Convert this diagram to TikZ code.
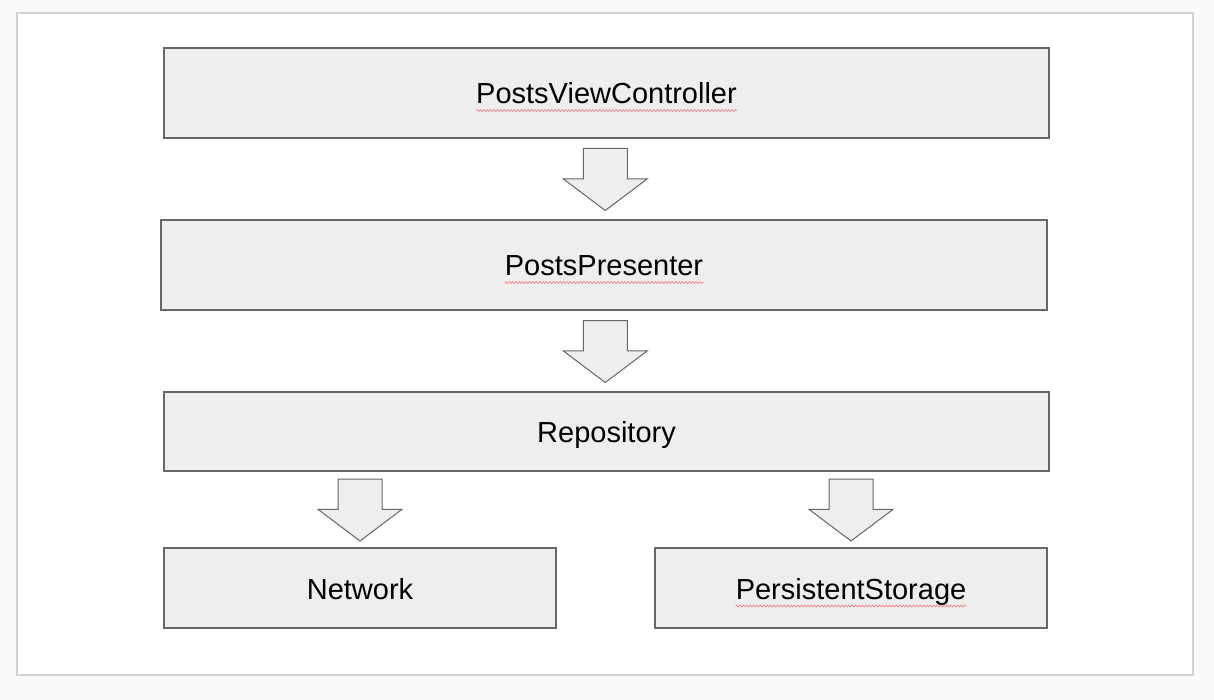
\documentclass[tikz,border=0pt]{standalone}
\usepackage{fontspec}
\setmainfont{Liberation Sans}
\usetikzlibrary{shapes.arrows, positioning, calc, decorations.pathmorphing}
\definecolor{pageGray}{RGB}{248, 249, 250}
\definecolor{edgeGray}{RGB}{210, 210, 210}
\definecolor{boxGray}{RGB}{238, 238, 238}
\definecolor{lineGray}{RGB}{102, 102, 102}
\definecolor{spellRed}{RGB}{240, 120, 120}
\tikzset{
    % Layer Block Style
    layerBox/.style={
        rectangle,
        minimum width=885pt,
        minimum height=90pt,
        fill=boxGray,
        draw=lineGray,
        line width=1.2pt,
        inner sep=0pt
    },
    smallBox/.style={layerBox, minimum width=392pt, minimum height=80pt},
    layerText/.style={inner sep=0pt, anchor=base, font=\fontsize{29pt}{34pt}\selectfont},
    % Block Arrow & Underline Styles
    blockArrow/.style={
        single arrow,
        shape border rotate=270,
        anchor=tail,
        fill=boxGray,
        draw=lineGray,
        line width=1pt,
        minimum height=62pt,
        minimum width=83pt,
        single arrow head extend=20pt,
        single arrow tip angle=106,
        inner xsep=21.5pt,
        inner ysep=0pt
    },
    spellMark/.style={draw=spellRed, line width=0.6pt,
        decorate, decoration={snake, amplitude=1pt, segment length=3.4pt}}
}
\begin{document}
\begin{tikzpicture}[x=1pt, y=-1pt, node distance=80.8pt]

    % --- Page ---
    \fill [pageGray] (0,0) rectangle (1214,700);
    \useasboundingbox (0,0) rectangle (1214,700);
    \draw [fill=white, draw=edgeGray, line width=2pt] (17,13) rectangle (1193,675);

    % --- Layers ---
    \node (ctrl) [layerBox] at (606.5,93) {};
    \node (presenter) [layerBox, minimum width=886pt, below=of ctrl, xshift=-2.5pt] {};
    \node (repo) [layerBox, minimum height=79pt, below=of presenter, xshift=2.5pt] {};
    \node (network) [smallBox, below right=75.8pt and 0pt of repo.south west] {};
    \node (storage) [smallBox, below left=75.8pt and 2pt of repo.south east] {};

    % --- Labels ---
    \node (ctrlText) [layerText] at ([yshift=-10.5pt]ctrl.center) {PostsViewController};
    \node (presenterText) [layerText] at ([yshift=-10.5pt]presenter.center) {PostsPresenter};
    \node (repoText) [layerText] at ([yshift=-10.5pt]repo.center) {Repository};
    \node (networkText) [layerText] at ([yshift=-11pt]network.center) {Network};
    \node (storageText) [layerText] at ([yshift=-11pt]storage.center) {PersistentStorage};

    % spellcheck marks
    \draw [spellMark] ([yshift=-7pt]ctrlText.base west) -- ([yshift=-7pt]ctrlText.base east);
    \draw [spellMark] ([yshift=-7pt]presenterText.base west) -- ([yshift=-7pt]presenterText.base east);
    \draw [spellMark] ([yshift=-7pt]storageText.base west) -- ([yshift=-7pt]storageText.base east);

    % --- Block Arrows (tail 31pt above the middle of each gap) ---
    \node (arrow1) [blockArrow] at ($(ctrl.south)!0.5!(presenter.north) + (0,-31)$) {};
    \node (arrow2) [blockArrow] at ($(presenter.south)!0.5!(repo.north) + (0,-31)$) {};
    \node (arrow3) [blockArrow] at ($(repo.south -| network.north)!0.5!(network.north) + (0,-31)$) {};
    \node (arrow4) [blockArrow] at ($(repo.south -| storage.north)!0.5!(storage.north) + (0,-31)$) {};

\end{tikzpicture}
\end{document}
